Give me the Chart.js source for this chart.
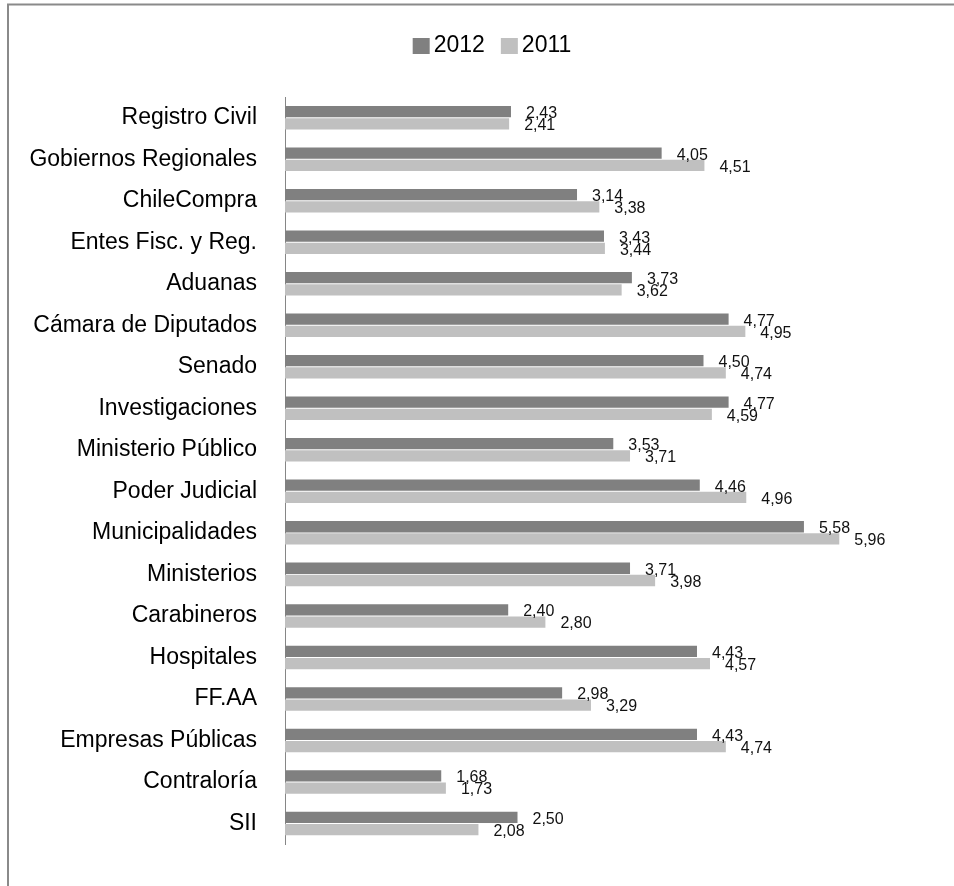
<!DOCTYPE html>
<html>
<head>
<meta charset="utf-8">
<script src="https://cdn.jsdelivr.net/npm/chart.js@4.4.0/dist/chart.umd.min.js"></script>
<style>
  html, body { margin: 0; padding: 0; background: #fff; }
  #wrap { width: 954px; height: 886px; }
</style>
</head>
<body>
<div id="wrap"><canvas id="grafico" width="954" height="886"></canvas></div>
<script>
// Data
const categorias = [
  "Registro Civil", "Gobiernos Regionales", "ChileCompra", "Entes Fisc. y Reg.",
  "Aduanas", "Cámara de Diputados", "Senado", "Investigaciones",
  "Ministerio Público", "Poder Judicial", "Municipalidades", "Ministerios",
  "Carabineros", "Hospitales", "FF.AA", "Empresas Públicas", "Contraloría", "SII"
];
const valores2012 = [2.43, 4.05, 3.14, 3.43, 3.73, 4.77, 4.50, 4.77, 3.53, 4.46, 5.58, 3.71, 2.40, 4.43, 2.98, 4.43, 1.68, 2.50];
const valores2011 = [2.41, 4.51, 3.38, 3.44, 3.62, 4.95, 4.74, 4.59, 3.71, 4.96, 5.96, 3.98, 2.80, 4.57, 3.29, 4.74, 1.73, 2.08];
const series = ["2012", "2011"];

const FONT = "'Liberation Sans', Arial, sans-serif";

// frame lines (top + left) like the cropped Excel border
const frame = {
  id: "frame",
  beforeDraw(chart) {
    const c = chart.ctx;
    c.save();
    c.strokeStyle = "#8a8a8a";
    c.lineWidth = 2;
    c.beginPath();
    c.moveTo(8, 886);
    c.lineTo(8, 4.5);
    c.lineTo(954, 4.5);
    c.stroke();
    c.restore();
  }
};

// legend drawn by hand so the box/text spacing looks like Excel
const leyenda = {
  id: "leyenda",
  afterDraw(chart) {
    const c = chart.ctx;
    c.save();
    c.font = "23px " + FONT;
    c.textBaseline = "middle";
    const box = 17, gap = 4, sep = 16;
    const items = chart.data.datasets.map(ds => ({ text: ds.label, color: ds.backgroundColor, w: c.measureText(ds.label).width }));
    let total = 0;
    items.forEach((it, i) => { total += box + gap + it.w + (i ? sep : 0); });
    let x = 492 - total / 2;
    items.forEach(it => {
      c.fillStyle = it.color;
      c.fillRect(x, 38, box, 16);
      c.fillStyle = "#000";
      c.fillText(it.text, x + box + gap, 46);
      x += box + gap + it.w + sep;
    });
    c.restore();
  }
};

// value labels at the end of every bar, comma as decimal mark
const etiquetas = {
  id: "etiquetas",
  afterDatasetsDraw(chart) {
    const c = chart.ctx;
    c.save();
    c.font = "16px " + FONT;
    c.fillStyle = "#111";
    c.textBaseline = "middle";
    c.textAlign = "left";
    chart.data.datasets.forEach((ds, i) => {
      chart.getDatasetMeta(i).data.forEach((bar, j) => {
        c.fillText(ds.data[j].toFixed(2).replace(".", ","), bar.x + 15, bar.y + 2);
      });
    });
    c.restore();
  }
};

new Chart(document.getElementById("grafico"), {
  type: "bar",
  data: {
    labels: categorias,
    datasets: [
      { label: series[0], data: valores2012, backgroundColor: "#808080" },
      { label: series[1], data: valores2011, backgroundColor: "#c0c0c0" }
    ]
  },
  options: {
    indexAxis: "y",
    responsive: false,
    animation: false,
    layout: { padding: { top: 97, bottom: 26, left: 0, right: 18 } },
    datasets: { bar: { categoryPercentage: 0.59, barPercentage: 0.92, borderWidth: 0 } },
    scales: {
      x: { display: false, min: 0, max: 7 },
      y: {
        afterFit(scale) { scale.width = 285; },
        grid: { display: false, drawTicks: false },
        border: { display: true, color: "#868686", width: 1 },
        ticks: { color: "#000", padding: 28, font: { family: FONT, size: 23 } }
      }
    },
    plugins: {
      legend: { display: false },
      tooltip: { enabled: false }
    }
  },
  plugins: [frame, leyenda, etiquetas]
});
</script>
</body>
</html>
